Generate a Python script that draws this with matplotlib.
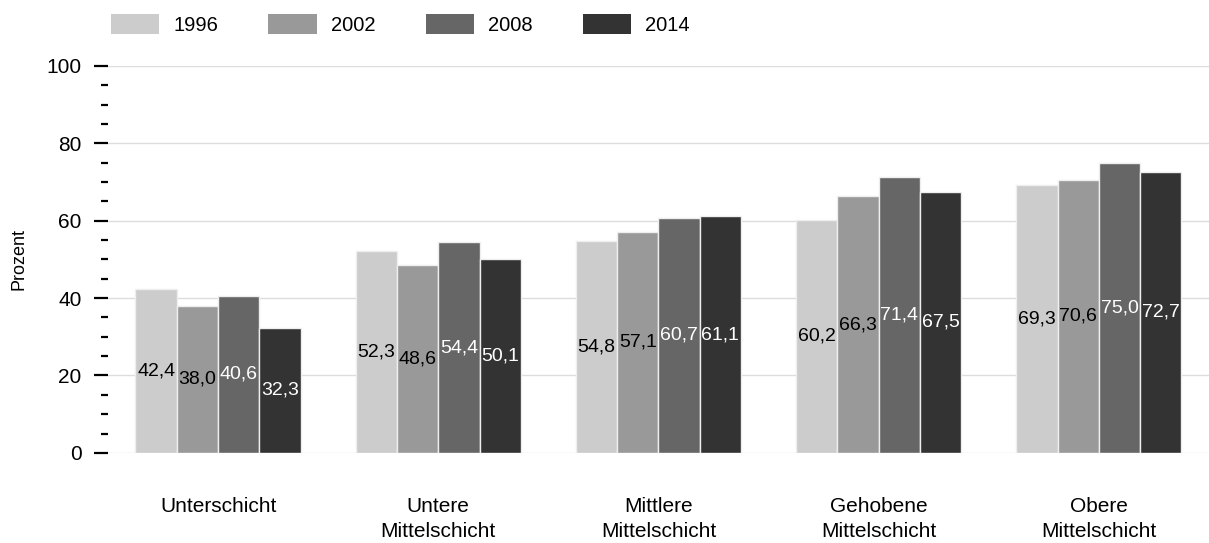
import numpy as np
import matplotlib.pyplot as plt
from matplotlib.patches import Patch
from matplotlib.ticker import MultipleLocator

plt.rcParams['font.family'] = ['Liberation Sans', 'DejaVu Sans']

schichten = ['Unterschicht', 'Untere\nMittelschicht', 'Mittlere\nMittelschicht',
             'Gehobene\nMittelschicht', 'Obere\nMittelschicht']
jahre = ['1996', '2002', '2008', '2014']
werte_1996 = [42.4, 52.3, 54.8, 60.2, 69.3]
werte_2002 = [38.0, 48.6, 57.1, 66.3, 70.6]
werte_2008 = [40.6, 54.4, 60.7, 71.4, 75.0]
werte_2014 = [32.3, 50.1, 61.1, 67.5, 72.7]

serien = [werte_1996, werte_2002, werte_2008, werte_2014]
farben = ['#cccccc', '#999999', '#666666', '#333333']
textfarben = ['black', 'black', 'white', 'white']

fig = plt.figure(figsize=(12.09, 5.43), dpi=100)
ax = fig.add_axes([0.0893, 0.166, 0.9107, 0.7125])

x = np.arange(len(schichten))
breite = 0.1875
for i, (werte, farbe) in enumerate(zip(serien, farben)):
    pos = x + (i - 1.5) * breite
    ax.bar(pos, werte, width=breite, color=farbe, edgecolor='#eeeeee',
           linewidth=1, zorder=2)
    for p, w in zip(pos, werte):
        ax.text(p, w / 2, f'{w:.1f}'.replace('.', ','), ha='center', va='center',
                fontsize=14, color=textfarben[i], zorder=3)

ax.set_xlim(-0.5, 4.5)
ax.set_ylim(0, 100)
ax.yaxis.set_major_locator(MultipleLocator(20))
ax.yaxis.set_minor_locator(MultipleLocator(5))
ax.grid(axis='y', which='major', color='#dddddd', linewidth=1, zorder=0)
ax.tick_params(axis='y', which='major', length=10, width=1.6, labelsize=15, pad=9)
ax.tick_params(axis='y', which='minor', length=5, width=1.6)
ax.tick_params(axis='x', length=0, labelsize=15, pad=32)
for s in ax.spines.values():
    s.set_visible(False)
ax.set_xticks(x)
ax.set_xticklabels(schichten, linespacing=1.4)
ax.set_ylabel('Prozent', fontsize=13, labelpad=14)

handles = [Patch(facecolor=f, edgecolor='none') for f in farben]
fig.legend(handles, jahre, loc='upper left', bbox_to_anchor=(0.0765, 1.008), ncol=4,
           frameon=False, fontsize=14.5, handlelength=2.4, handleheight=1.2,
           columnspacing=2.5, handletextpad=0.7)

fig.savefig('out.png', dpi=100)
